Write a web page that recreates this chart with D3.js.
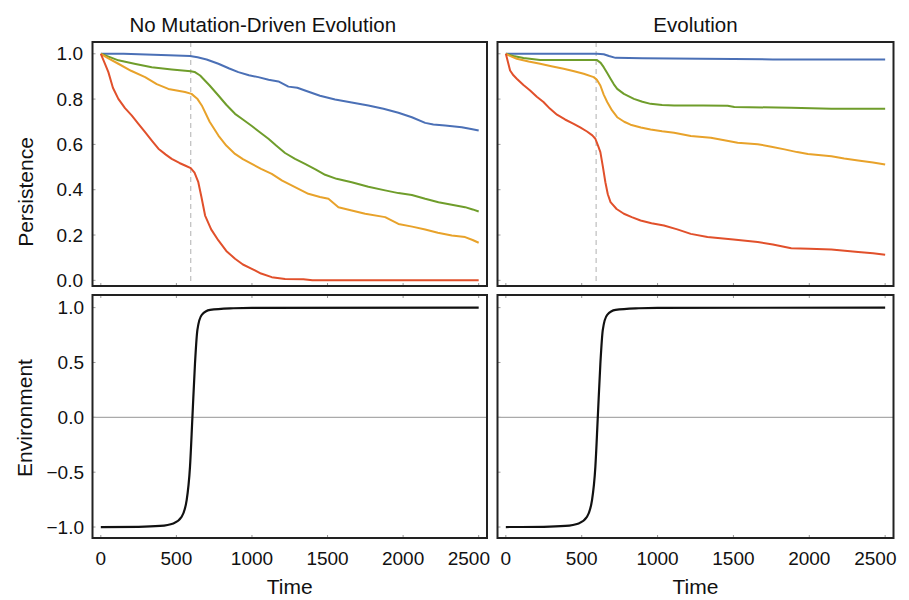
<!DOCTYPE html>
<html>
<head>
<meta charset="utf-8">
<script src="https://cdn.jsdelivr.net/npm/d3@7"></script>
<style>
  html, body { margin: 0; padding: 0; background: #fff; }
  svg { display: block; }
  text { font-family: "Liberation Sans", Arial, sans-serif; fill: #111; }
</style>
</head>
<body>
<svg id="chart" width="909" height="600"></svg>
<script>
// ---------------- DATA ----------------
const panelTitles = ["No Mutation-Driven Evolution", "Evolution"];
const seriesNames = ["blue", "green", "orange", "red"];
const seriesColors = ["#4b70b6", "#6f9d2b", "#e8a22a", "#e1502b"];
const timeTicks = [0, 500, 1000, 1500, 2000, 2500];
const persistTicks = [0.0, 0.2, 0.4, 0.6, 0.8, 1.0];
const envTicks = [-1.0, -0.5, 0.0, 0.5, 1.0];
const shiftTime = 595;

// No mutation-driven evolution: [time, persistence]
const noEvoBlue = [[0,1],[150,1.0],[300,0.997],[450,0.993],[590,0.99],[640,0.985],[700,0.975],[778,0.956],[850,0.935],[910,0.919],[980,0.905],[1042,0.897],[1110,0.885],[1175,0.878],[1241,0.855],[1300,0.85],[1351,0.838],[1450,0.815],[1550,0.798],[1660,0.785],[1770,0.772],[1870,0.757],[1969,0.74],[2058,0.72],[2146,0.695],[2200,0.688],[2278,0.683],[2388,0.676],[2450,0.668],[2500,0.661]];
const noEvoGreen = [[0,1],[60,0.985],[116,0.971],[230,0.955],[337,0.941],[469,0.931],[595,0.923],[620,0.92],[657,0.904],[720,0.86],[778,0.816],[830,0.775],[888,0.735],[940,0.71],[999,0.681],[1050,0.655],[1109,0.625],[1160,0.595],[1219,0.562],[1285,0.536],[1351,0.514],[1420,0.49],[1484,0.466],[1560,0.448],[1660,0.433],[1770,0.413],[1881,0.397],[1969,0.385],[2058,0.377],[2146,0.36],[2234,0.345],[2322,0.334],[2410,0.323],[2460,0.313],[2500,0.304]];
const noEvoOrange = [[0,1],[50,0.98],[116,0.956],[200,0.925],[293,0.897],[370,0.866],[447,0.845],[557,0.831],[600,0.823],[640,0.8],[668,0.772],[720,0.7],[778,0.639],[830,0.595],[888,0.558],[940,0.535],[999,0.514],[1060,0.492],[1131,0.47],[1200,0.44],[1285,0.411],[1373,0.382],[1450,0.368],[1506,0.36],[1572,0.323],[1660,0.308],[1749,0.294],[1881,0.279],[1969,0.249],[2060,0.237],[2146,0.224],[2230,0.21],[2322,0.198],[2410,0.191],[2460,0.178],[2500,0.166]];
const noEvoRed = [[0,1],[25,0.96],[50,0.919],[80,0.85],[116,0.801],[160,0.76],[204,0.728],[250,0.69],[293,0.654],[340,0.615],[381,0.581],[430,0.555],[469,0.536],[520,0.518],[557,0.507],[595,0.495],[620,0.475],[645,0.433],[665,0.37],[690,0.286],[730,0.225],[778,0.176],[830,0.13],[888,0.095],[940,0.07],[999,0.051],[1060,0.03],[1131,0.014],[1219,0.006],[1340,0.005],[1400,0.0],[1800,0.0],[2500,0.0]];

// Evolution: [time, persistence]
const evoBlue = [[0,1],[300,1.0],[600,1.0],[645,0.998],[680,0.99],[723,0.982],[900,0.98],[1285,0.978],[1500,0.977],[1760,0.975],[2500,0.975]];
const evoGreen = [[0,1],[50,0.99],[116,0.981],[226,0.973],[400,0.973],[601,0.972],[625,0.96],[645,0.941],[668,0.915],[690,0.89],[712,0.865],[734,0.845],[778,0.823],[844,0.801],[900,0.788],[954,0.779],[1030,0.774],[1109,0.772],[1300,0.772],[1462,0.771],[1506,0.765],[1881,0.762],[2146,0.757],[2500,0.757]];
const evoOrange = [[0,1],[30,0.99],[72,0.978],[150,0.966],[226,0.956],[300,0.945],[381,0.934],[450,0.923],[513,0.912],[579,0.897],[600,0.885],[623,0.86],[645,0.82],[668,0.787],[700,0.75],[734,0.72],[780,0.7],[822,0.687],[890,0.675],[954,0.666],[1030,0.658],[1109,0.651],[1219,0.637],[1351,0.629],[1440,0.618],[1528,0.607],[1660,0.601],[1750,0.59],[1837,0.578],[1920,0.566],[1991,0.558],[2146,0.548],[2230,0.538],[2322,0.529],[2420,0.52],[2500,0.511]];
const evoRed = [[0,1],[15,0.96],[28,0.926],[50,0.905],[72,0.89],[116,0.862],[160,0.838],[204,0.81],[248,0.787],[290,0.758],[337,0.731],[390,0.71],[447,0.691],[490,0.675],[535,0.657],[570,0.64],[590,0.625],[610,0.59],[623,0.566],[640,0.5],[656,0.433],[672,0.38],[690,0.345],[730,0.315],[778,0.294],[830,0.279],[888,0.264],[960,0.252],[1042,0.242],[1130,0.225],[1219,0.205],[1329,0.191],[1500,0.18],[1660,0.169],[1760,0.158],[1881,0.142],[2000,0.139],[2146,0.136],[2322,0.125],[2420,0.12],[2500,0.113]];

// Environment: [time, value]
const environment = [[0,-1],[250,-0.998],[392,-0.99],[480,-0.967],[535,-0.906],[568,-0.755],[590,-0.452],[606,0],[623,0.488],[639,0.797],[668,0.934],[723,0.979],[877,0.994],[1000,0.998],[2500,1.0]];

// ---------------- LAYOUT ----------------
const svg = d3.select("#chart");
const cols = [{x0: 92.5, x1: 487}, {x0: 497.5, x1: 893.5}];
const rows = {top: {y0: 42, y1: 286}, bottom: {y0: 295, y1: 538}};
const timeDomain = [-55, 2555];

const persistSets = [
  [noEvoBlue, noEvoGreen, noEvoOrange, noEvoRed],
  [evoBlue, evoGreen, evoOrange, evoRed]
];

cols.forEach((c, ci) => {
  const x = d3.scaleLinear().domain(timeDomain).range([c.x0, c.x1]);
  const yP = d3.scaleLinear().domain([-0.025, 1.052]).range([rows.top.y1, rows.top.y0]);
  const yE = d3.scaleLinear().domain([-1.1, 1.115]).range([rows.bottom.y1, rows.bottom.y0]);

  // title
  svg.append("text")
    .attr("x", (c.x0 + c.x1) / 2 + (ci === 0 ? -27 : 0))
    .attr("y", 32)
    .attr("text-anchor", "middle")
    .style("font-size", "20.5px")
    .text(panelTitles[ci]);

  // ---- top panel ----
  const gT = svg.append("g");
  persistTicks.forEach(v => {
    gT.append("line").attr("x1", c.x0).attr("x2", c.x0 + 3)
      .attr("y1", yP(v)).attr("y2", yP(v)).attr("stroke", "#999").attr("stroke-width", 1);
  });
  timeTicks.forEach(t => {
    gT.append("line").attr("x1", x(t)).attr("x2", x(t))
      .attr("y1", rows.top.y1).attr("y2", rows.top.y1 - 3).attr("stroke", "#999").attr("stroke-width", 1);
  });
  gT.append("line")
    .attr("x1", x(shiftTime)).attr("x2", x(shiftTime))
    .attr("y1", rows.top.y0).attr("y2", rows.top.y1)
    .attr("stroke", "#b8b8b8").attr("stroke-width", 1.1)
    .attr("stroke-dasharray", "5,4");

  const lineP = d3.line().x(d => x(d[0])).y(d => yP(d[1]));
  persistSets[ci].forEach((s, si) => {
    gT.append("path").datum(s)
      .attr("d", lineP)
      .attr("fill", "none")
      .attr("stroke", seriesColors[si])
      .attr("stroke-width", 2)
      .attr("stroke-linejoin", "round");
  });
  gT.append("rect")
    .attr("x", c.x0).attr("y", rows.top.y0)
    .attr("width", c.x1 - c.x0).attr("height", rows.top.y1 - rows.top.y0)
    .attr("fill", "none").attr("stroke", "#222").attr("stroke-width", 2);

  // ---- bottom panel ----
  const gB = svg.append("g");
  envTicks.forEach(v => {
    gB.append("line").attr("x1", c.x0).attr("x2", c.x0 + 3)
      .attr("y1", yE(v)).attr("y2", yE(v)).attr("stroke", "#999").attr("stroke-width", 1);
  });
  timeTicks.forEach(t => {
    gB.append("line").attr("x1", x(t)).attr("x2", x(t))
      .attr("y1", rows.bottom.y1).attr("y2", rows.bottom.y1 - 3).attr("stroke", "#999").attr("stroke-width", 1);
    gB.append("line").attr("x1", x(t)).attr("x2", x(t))
      .attr("y1", rows.bottom.y0).attr("y2", rows.bottom.y0 + 3).attr("stroke", "#999").attr("stroke-width", 1);
  });
  gB.append("line")
    .attr("x1", c.x0).attr("x2", c.x1)
    .attr("y1", yE(0)).attr("y2", yE(0))
    .attr("stroke", "#aaa").attr("stroke-width", 1.2);
  const lineE = d3.line().x(d => x(d[0])).y(d => yE(d[1])).curve(d3.curveMonotoneX);
  gB.append("path").datum(environment)
    .attr("d", lineE)
    .attr("fill", "none")
    .attr("stroke", "#111")
    .attr("stroke-width", 2.2);
  gB.append("rect")
    .attr("x", c.x0).attr("y", rows.bottom.y0)
    .attr("width", c.x1 - c.x0).attr("height", rows.bottom.y1 - rows.bottom.y0)
    .attr("fill", "none").attr("stroke", "#222").attr("stroke-width", 2);

  // x tick labels
  timeTicks.forEach((t, i) => {
    const last = i === timeTicks.length - 1;
    svg.append("text")
      .attr("x", last ? c.x1 + 3 : x(t))
      .attr("y", 565)
      .attr("text-anchor", last ? "end" : "middle")
      .style("font-size", "19px")
      .text(d3.format("d")(t));
  });
  // x axis title
  svg.append("text")
    .attr("x", x(1250))
    .attr("y", 594)
    .attr("text-anchor", "middle")
    .style("font-size", "21px")
    .text("Time");

  if (ci === 0) {
    persistTicks.forEach(v => {
      svg.append("text")
        .attr("x", 83).attr("y", yP(v))
        .attr("dy", "0.35em")
        .attr("text-anchor", "end")
        .style("font-size", "19px")
        .text(d3.format(".1f")(v));
    });
    envTicks.forEach(v => {
      svg.append("text")
        .attr("x", 84).attr("y", yE(v))
        .attr("dy", "0.35em")
        .attr("text-anchor", "end")
        .style("font-size", "19px")
        .text(d3.format(".1f")(v));
    });
    svg.append("text")
      .attr("transform", "translate(33,192) rotate(-90)")
      .attr("text-anchor", "middle")
      .style("font-size", "21px")
      .text("Persistence");
    svg.append("text")
      .attr("transform", "translate(32,418) rotate(-90)")
      .attr("text-anchor", "middle")
      .style("font-size", "21px")
      .text("Environment");
  }
});
</script>
</body>
</html>
